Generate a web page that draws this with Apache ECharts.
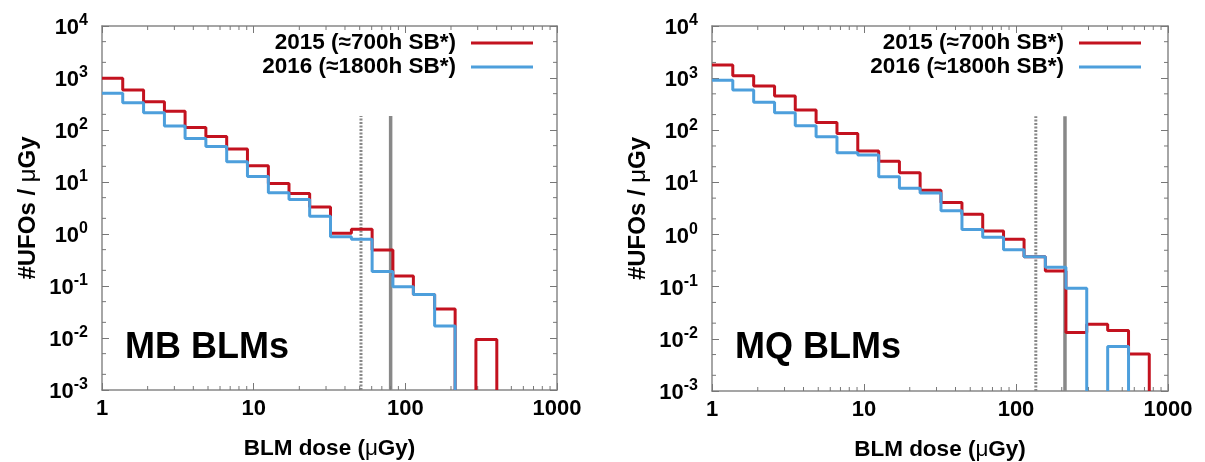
<!DOCTYPE html>
<html lang="en">
<head>
<meta charset="UTF-8">
<style>
    html, body { height: 100%; margin: 0; background: #fff; }
</style>
</head>
<body>
<div id="chart" style="width:1205px;height:462px;"></div>
<script src="https://cdn.jsdelivr.net/npm/echarts@6.0.0/dist/echarts.min.js"></script>
<script>
// bin edges (uGy), same log binning in both panels
var binEdges = [1, 1.37, 1.88, 2.58, 3.53, 4.84, 6.64, 9.1, 12.5, 17.1, 23.4, 32.1, 44.1, 60.4, 82.8, 113, 156, 213, 292, 401, 550, 753];

// #UFOs / uGy per bin, 0 = empty bin
var mb2015 = [990, 590, 350, 230, 112, 75, 43, 20.6, 9.4, 6.0, 3.3, 1.03, 1.23, 0.49, 0.156, 0.069, 0.036, 0, 0.0094];
var mb2016 = [510, 336, 215, 119, 69, 48, 24.6, 12.7, 6.2, 4.6, 2.2, 0.89, 0.79, 0.19, 0.097, 0.069, 0.017];
var mq2015 = [1780, 1110, 705, 453, 244, 141, 87, 40, 25.6, 15.3, 7.1, 4.1, 2.45, 1.17, 0.81, 0.377, 0.2, 0.0132, 0.019, 0.0144, 0.0051];
var mq2016 = [908, 591, 343, 217, 122, 75, 37, 33.4, 12.8, 7.7, 6.3, 2.85, 1.25, 0.885, 0.51, 0.377, 0.235, 0.093, 0, 0.0071];

// thresholds: dotted / solid vertical lines, [x, top]
var mbDotted = [51, 186], mbSolid = [80, 186];
var mqDotted = [135, 186], mqSolid = [210, 186];

var yMin = 1e-3, yMax = 1e4;
var xMinorTicks = [2, 3, 4, 5, 6, 7, 8, 9, 20, 30, 40, 50, 60, 70, 80, 90, 200, 300, 400, 500, 600, 700, 800, 900];
var yMinorTicks = [0.002, 0.005, 0.02, 0.05, 0.2, 0.5, 2, 5, 20, 50, 200, 500, 2000, 5000];

var name15 = '2015 (\u2248700h SB*)';
var name16 = '2016 (\u22481800h SB*)';
var red = '#c3121f', blue = '#4d9fdc', grey = '#888';
var font = 'Liberation Sans, Arial, sans-serif';

// histogram outline; empty bins break the line so nothing is drawn on the floor
function steps(vals) {
    var pts = [];
    var prev = 0;
    for (var i = 0; i < vals.length; i++) {
        var v = vals[i];
        if (v > 0) {
            if (prev <= 0 && i > 0) pts.push([binEdges[i], yMin]);
            pts.push([binEdges[i], v], [binEdges[i + 1], v]);
        } else if (prev > 0) {
            pts.push([binEdges[i], yMin], [binEdges[i], '-']);
        }
        prev = v;
    }
    if (prev > 0) pts.push([binEdges[vals.length], yMin]);
    return pts;
}

function xAx(gi, pos, labels) {
    return {
        type: 'log', logBase: 10, gridIndex: gi, position: pos,
        min: 1, max: 1000, splitNumber: 3,
        axisLine: { show: true, onZero: false, lineStyle: { color: grey, width: 1.5 } },
        axisTick: { show: true, inside: true, length: 7, lineStyle: { color: '#777' } },
        splitLine: { show: false },
        axisLabel: {
            show: labels, margin: 8, color: '#000', fontFamily: font, fontWeight: 'bold', fontSize: 22,
            formatter: function (v) { return String(Math.round(v)); }
        },
        name: labels ? 'BLM dose ({m|\u03bc}Gy)' : '',
        nameLocation: 'middle', nameGap: 47,
        nameTextStyle: {
            color: '#000', fontFamily: font, fontWeight: 'bold', fontSize: 22.5,
            rich: { m: { fontFamily: font, fontWeight: 'normal', fontSize: 22.5, color: '#000' } }
        }
    };
}

function yAx(gi, pos, labels) {
    return {
        type: 'log', logBase: 10, gridIndex: gi, position: pos,
        min: yMin, max: yMax, splitNumber: 7,
        axisLine: { show: true, onZero: false, lineStyle: { color: grey, width: 1.5 } },
        axisTick: { show: true, inside: true, length: 7, lineStyle: { color: '#777' } },
        splitLine: { show: false },
        axisLabel: {
            show: labels, margin: 14,
            formatter: function (v) { return '{b|10}{s|' + Math.round(Math.log10(v)) + '}'; },
            rich: {
                b: { fontFamily: font, fontWeight: 'bold', fontSize: 22, color: '#000', verticalAlign: 'bottom' },
                s: { fontFamily: font, fontWeight: 'bold', fontSize: 16, color: '#000', verticalAlign: 'top', padding: [0, 0, 10, 0] }
            }
        },
        name: labels ? '#UFOs / {m|\u03bc}Gy' : '',
        nameLocation: 'middle', nameGap: 62,
        nameTextStyle: {
            color: '#000', fontFamily: font, fontWeight: 'bold', fontSize: 24,
            rich: { m: { fontFamily: font, fontWeight: 'normal', fontSize: 24, color: '#000' } }
        }
    };
}

function hist(name, vals, color, gi) {
    return {
        name: name, type: 'line', xAxisIndex: gi * 2, yAxisIndex: gi * 2,
        data: steps(vals), showSymbol: false, silent: true,
        lineStyle: { color: color, width: 3 }, itemStyle: { color: color }
    };
}

function vline(pt, dotted, gi) {
    return {
        name: 'threshold', type: 'line', xAxisIndex: gi * 2, yAxisIndex: gi * 2,
        data: [[pt[0], yMin], [pt[0], pt[1]]], showSymbol: false, silent: true, z: 1,
        lineStyle: { color: grey, width: dotted ? 3 : 3.5, type: dotted ? [2, 1.5] : 'solid' }
    };
}

function minorTicks(gi) {
    var data = [];
    xMinorTicks.forEach(function (v) { data.push([v, 1, 0]); });
    yMinorTicks.forEach(function (v) { data.push([1, v, 1]); });
    return {
        type: 'custom', xAxisIndex: gi * 2, yAxisIndex: gi * 2, silent: true, clip: false,
        encode: { x: 0, y: 1 }, data: data,
        renderItem: function (params, api) {
            var cs = params.coordSys, len = 4;
            var st = { stroke: '#777', lineWidth: 1 };
            if (api.value(2) === 0) {
                var px = api.coord([api.value(0), 1])[0];
                return { type: 'group', children: [
                    { type: 'line', shape: { x1: px, y1: cs.y + cs.height, x2: px, y2: cs.y + cs.height - len }, style: st },
                    { type: 'line', shape: { x1: px, y1: cs.y, x2: px, y2: cs.y + len }, style: st }
                ] };
            }
            var py = api.coord([1, api.value(1)])[1];
            return { type: 'group', children: [
                { type: 'line', shape: { x1: cs.x, y1: py, x2: cs.x + len, y2: py }, style: st },
                { type: 'line', shape: { x1: cs.x + cs.width, y1: py, x2: cs.x + cs.width - len, y2: py }, style: st }
            ] };
        }
    };
}

function legendAt(right) {
    return {
        data: [name15, name16], orient: 'vertical', right: right, top: 31, padding: 0,
        align: 'right', icon: 'rect', itemWidth: 62, itemHeight: 3, itemGap: 0,
        selectedMode: false,
        textStyle: { color: '#000', fontFamily: font, fontWeight: 'bold', fontSize: 22.5, lineHeight: 24, padding: [0, 10, 0, 0] }
    };
}

var myChart = echarts.init(document.getElementById('chart'));
myChart.setOption({
    animation: false,
    grid: [
        { left: 102, right: 648, top: 26, bottom: 72, outerBoundsMode: 'none' },
        { left: 712, right: 37, top: 26, bottom: 71, outerBoundsMode: 'none' }
    ],
    xAxis: [xAx(0, 'bottom', true), xAx(0, 'top', false), xAx(1, 'bottom', true), xAx(1, 'top', false)],
    yAxis: [yAx(0, 'left', true), yAx(0, 'right', false), yAx(1, 'left', true), yAx(1, 'right', false)],
    legend: [legendAt(672), legendAt(64)],
    graphic: [
        { type: 'text', left: 125, top: 330, silent: true,
          style: { text: 'MB BLMs', fill: '#000', font: 'bold 36px ' + font } },
        { type: 'text', left: 735, top: 330, silent: true,
          style: { text: 'MQ BLMs', fill: '#000', font: 'bold 36px ' + font } }
    ],
    series: [
        vline(mbDotted, true, 0), vline(mbSolid, false, 0),
        vline(mqDotted, true, 1), vline(mqSolid, false, 1),
        hist(name15, mb2015, red, 0), hist(name16, mb2016, blue, 0),
        hist(name15, mq2015, red, 1), hist(name16, mq2016, blue, 1),
        minorTicks(0), minorTicks(1)
    ]
});
</script>
</body>
</html>
